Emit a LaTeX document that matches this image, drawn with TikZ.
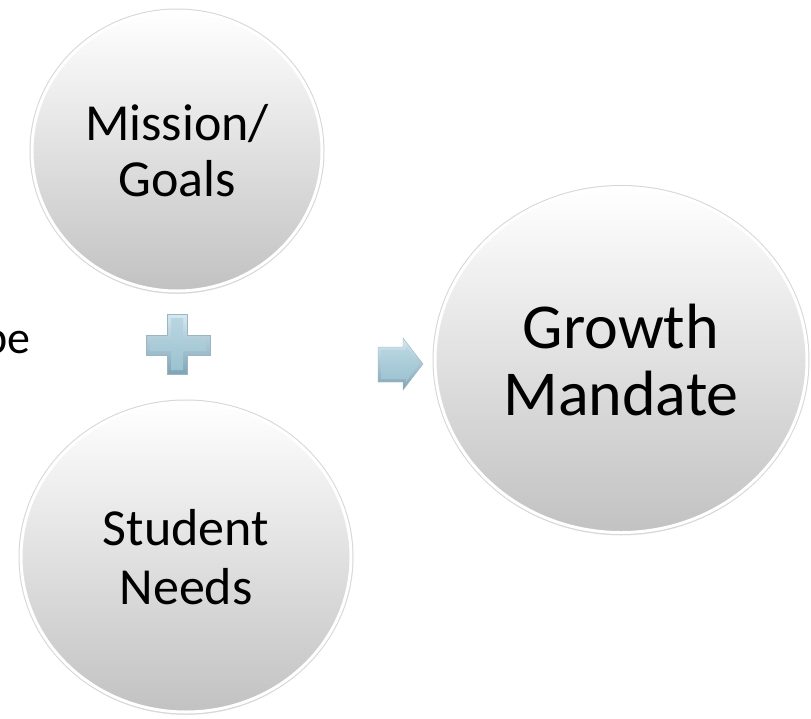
\documentclass[tikz,border=0pt]{standalone}
\usepackage{fontspec}
\setmainfont{Carlito}
\usetikzlibrary{shapes.geometric,shadows}
\definecolor{bevlight}{RGB}{214,233,240}
\definecolor{bevdark}{RGB}{128,164,181}
\definecolor{facetop}{RGB}{184,214,225}
\definecolor{facebot}{RGB}{156,194,208}
\begin{document}
\begin{tikzpicture}[x=1pt,y=-1pt,
  bubble/.style={ellipse, inner sep=0pt, align=center, text=black,
    top color=white, bottom color=black!24,
    drop shadow={opacity=0.18, shadow xshift=0pt, shadow yshift=-3pt},
    preaction={draw=black!16, line width=5pt},
    draw=white, line width=3pt},
  bevel/.style={top color=bevlight, bottom color=bevdark, draw=bevdark!80, line width=0.4pt},
  face/.style={top color=facetop, bottom color=facebot}
]
\useasboundingbox (0,0) rectangle (811,718);
\fill[white] (0,0) rectangle (811,718);

\node[bubble, minimum width=290pt, minimum height=280pt,
      font=\fontsize{52}{56}\selectfont] (mission) at (177,151) {Mission/\\Goals};
\node[bubble, minimum width=330pt, minimum height=310pt,
      font=\fontsize{52}{59}\selectfont] (student) at (186,557) {Student\\Needs};
\node[bubble, minimum width=372pt, minimum height=345pt,
      font=\fontsize{64}{67}\selectfont] (growth) at (621,360) {Growth\\Mandate};

\node[anchor=base east, inner sep=0pt, font=\fontsize{46}{50}\selectfont] (pe) at (31,353) {pe};

% plus sign
\path[bevel] (146,335)--(167,335)--(167,314)--(187,314)--(187,335)--(210,335)
  --(210,355)--(187,355)--(187,374)--(167,374)--(167,355)--(146,355)--cycle;
\path[face] (150,339)--(171,339)--(171,318)--(183,318)--(183,339)--(206,339)
  --(206,351)--(183,351)--(183,370)--(171,370)--(171,351)--(150,351)--cycle;

% arrow
\path[bevel] (378,347)--(403,347)--(403,338)--(423,364)--(403,390)--(403,382)--(378,382)--cycle;
\path[face] (381,350)--(406,350)--(406,346)--(419,364)--(406,382)--(406,379)--(381,379)--cycle;
\end{tikzpicture}
\end{document}
